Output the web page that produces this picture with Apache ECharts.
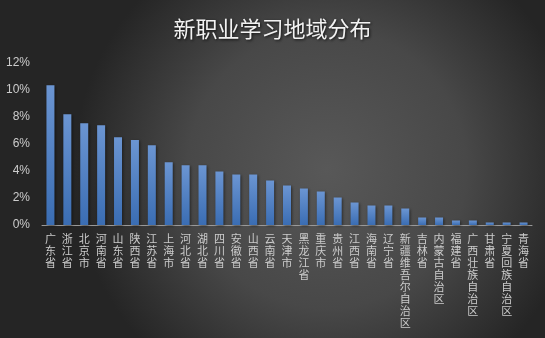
<!DOCTYPE html>
<html>
<head>
<meta charset="utf-8">
<script src="https://cdn.jsdelivr.net/npm/echarts@6/dist/echarts.min.js"></script>
<style>
  html, body { margin: 0; padding: 0; background: #333; }
  #chart { width: 545px; height: 338px; }
</style>
</head>
<body>
<div id="chart"></div>
<script>
// Regions, ordered by share of learners
const regions = ['广东省', '浙江省', '北京市', '河南省', '山东省', '陕西省', '江苏省', '上海市', '河北省', '湖北省',
  '四川省', '安徽省', '山西省', '云南省', '天津市', '黑龙江省', '重庆市', '贵州省', '江西省', '海南省',
  '辽宁省', '新疆维吾尔自治区', '吉林省', '内蒙古自治区', '福建省', '广西壮族自治区', '甘肃省', '宁夏回族自治区', '青海省'];
// Share of learners per region, in percent
const shares = [10.36, 8.2, 7.54, 7.39, 6.5, 6.3, 5.9, 4.64, 4.42, 4.42,
  3.97, 3.74, 3.74, 3.3, 2.92, 2.7, 2.48, 2.03, 1.66, 1.44,
  1.44, 1.22, 0.55, 0.55, 0.33, 0.33, 0.18, 0.18, 0.18];
// Value axis ticks (percent)
const yTicks = [0, 2, 4, 6, 8, 10, 12];

const chart = echarts.init(document.getElementById('chart'));
chart.setOption({
  backgroundColor: new echarts.graphic.RadialGradient(0.6, 0.5, 0.75, [
    { offset: 0, color: '#585858' },
    { offset: 0.55, color: '#484848' },
    { offset: 1, color: '#252525' }
  ]),
  title: {
    text: '新职业学习地域分布',
    left: 'center',
    top: 13,
    textStyle: {
      color: '#f2f2f2',
      fontSize: 22,
      fontWeight: 'normal',
      fontFamily: 'Noto Sans CJK SC',
      textShadowColor: 'rgba(0,0,0,0.8)',
      textShadowBlur: 3,
      textShadowOffsetX: 1,
      textShadowOffsetY: 1
    }
  },
  grid: { left: 42, right: 13, top: 63, bottom: 113, containLabel: false },
  xAxis: {
    type: 'category',
    data: regions,
    axisLine: { lineStyle: { color: '#9a9a9a', width: 1 } },
    axisTick: { show: false },
    axisLabel: {
      interval: 0,
      color: '#cccccc',
      fontSize: 11,
      lineHeight: 12,
      margin: 8,
      fontFamily: 'Noto Sans CJK SC',
      verticalAlign: 'top',
      // stack the characters vertically, one per line
      formatter: v => v.split('').join('\n')
    }
  },
  yAxis: {
    type: 'value',
    min: yTicks[0],
    max: yTicks[yTicks.length - 1],
    interval: yTicks[1] - yTicks[0],
    splitLine: { show: false },
    axisLine: { show: false },
    axisTick: { show: false },
    axisLabel: {
      color: '#cccccc',
      fontSize: 12,
      margin: 12,
      fontFamily: 'Liberation Sans',
      formatter: v => v + '%'
    }
  },
  series: [{
    type: 'bar',
    data: shares,
    barWidth: 8,
    itemStyle: {
      color: new echarts.graphic.LinearGradient(0, 0, 0, 1, [
        { offset: 0, color: '#6b95d2' },
        { offset: 1, color: '#3a6db3' }
      ]),
      shadowColor: 'rgba(0,0,0,0.5)',
      shadowBlur: 3,
      shadowOffsetX: 1,
      shadowOffsetY: 1
    }
  }]
});
</script>
</body>
</html>
